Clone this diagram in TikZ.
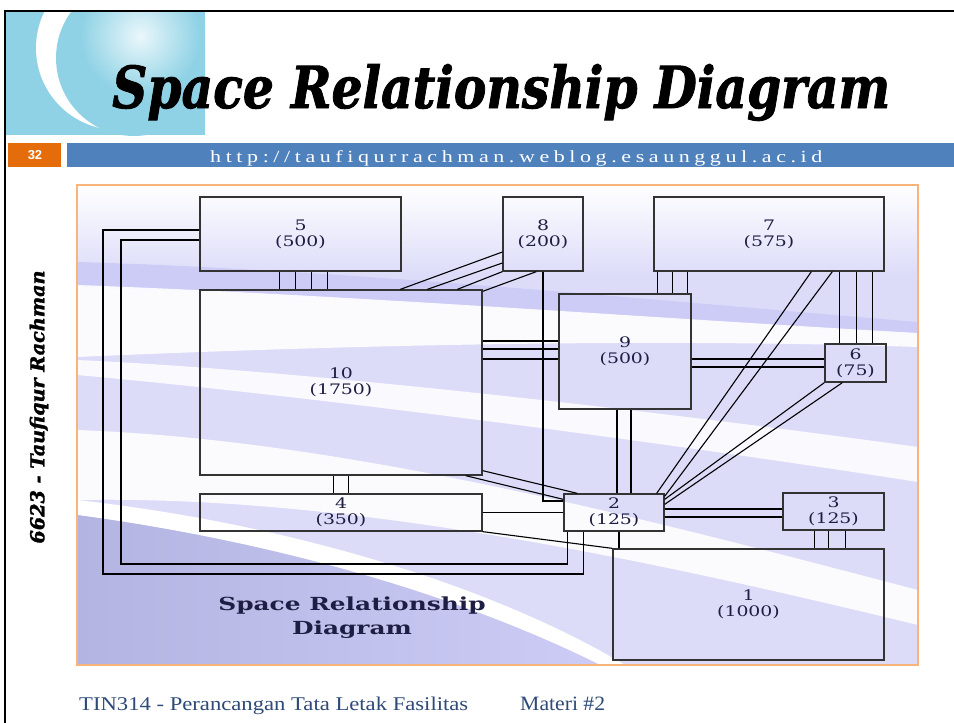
\documentclass[tikz,border=0pt]{standalone}
\usepackage{fontspec}
\usepackage{xcolor}
\usetikzlibrary{calc}
\newfontfamily\labelfont[FakeStretch=1.3]{DejaVu Serif}
\newfontfamily\capfont[FakeStretch=1.38]{DejaVu Serif}
\newfontfamily\titlefont{DejaVu Serif}
\newfontface\headfont[FakeBold=1.6]{DejaVu Serif Bold Italic}
\newfontfamily\urlfont[FakeStretch=0.8]{Liberation Serif}
\newfontfamily\footfont[FakeStretch=0.85]{Liberation Serif}
\newfontfamily\numfont{Liberation Sans}
\definecolor{barblue}{HTML}{4F81BD}
\definecolor{numorange}{HTML}{E46C0A}
\definecolor{frameorange}{HTML}{F9B47C}
\definecolor{lav}{HTML}{DCDCF9}
\definecolor{lavband}{HTML}{CCCCF6}
\definecolor{lavdark}{HTML}{B4B4E2}
\definecolor{logoblue}{HTML}{8FD2E5}
\definecolor{logolight}{HTML}{EAF7FB}
\definecolor{labelink}{HTML}{1E1E44}
\definecolor{footblue}{HTML}{2E4A78}
\begin{document}
\begin{tikzpicture}[
  x=1pt,y=-1pt,
  room/.style={draw=black!80,line width=1.3pt,inner sep=0pt,align=center,
    text=labelink,font=\labelfont\fontsize{14.5}{16}\selectfont},
  link/.style={line width=1.1pt,draw=black}
]
  \useasboundingbox (0,0) rectangle (954,723);
  \fill[white] (0,0) rectangle (954,723);

  % Slide frame and logo.
  \begin{scope}
    \clip (5,12) rectangle (205,135);
    \fill[logoblue] (5,12) rectangle (205,135);
    \fill[white] (118,48) circle[radius=82];
    \fill[logoblue] (134,58) circle[radius=78];
    \shade[inner color=logolight,outer color=logoblue] (140,36) circle[radius=60];
  \end{scope}
  \draw[line width=2.5pt] (5,723) -- (5,11) -- (954,11);

  % Title and bar.
  \node[anchor=base west,inner sep=0pt] (title) at (112,108)
    {\resizebox{778pt}{44pt}{\headfont Space Relationship Diagram}};
  \fill[numorange] (8,143) rectangle (61,167);
  \fill[barblue] (67,143) rectangle (954,167);
  \node[text=white,font=\numfont\bfseries\fontsize{13}{13}\selectfont] (page) at (35,155) {32};
  \node[anchor=base west,inner sep=0pt,text=white] (url) at (210,162)
    {\resizebox{612pt}{12pt}{\urlfont h\,t\,t\,p\,:\,/\,/\,t\,a\,u\,f\,i\,q\,u\,r\,r\,a\,c\,h\,m\,a\,n\,.\,w\,e\,b\,l\,o\,g\,.\,e\,s\,a\,u\,n\,g\,g\,u\,l\,.\,a\,c\,.\,i\,d}};
  \node[rotate=90,inner sep=0pt] (author) at (39,407)
    {\resizebox{273pt}{!}{\headfont 6623 - Taufiqur Rachman}};

  % Background of the diagram.
  \begin{scope}
    \clip (77,185) rectangle (918,665);
    \fill[lav] (77,185) rectangle (918,665);
    \shade[top color=white,bottom color=lav] (77,185) rectangle (918,275);
    \fill[lavband] (77,262) .. controls (350,270) and (650,300) .. (918,322)
      -- (918,335) .. controls (650,318) and (350,296) .. (77,287) -- cycle;
    \fill[white,opacity=0.9] (77,285) .. controls (350,295) and (650,318) .. (918,333)
      -- (918,347) .. controls (650,338) and (350,345) .. (77,357) -- cycle;
    \fill[white,opacity=0.85] (77,360) .. controls (300,370) and (650,410) .. (918,447)
      -- (918,482) .. controls (650,440) and (300,395) .. (77,375) -- cycle;
    \fill[white,opacity=0.9] (77,430) .. controls (350,440) and (650,520) .. (918,590)
      -- (918,625) .. controls (650,560) and (350,495) .. (77,500) -- cycle;
    \fill[white] (77,500) .. controls (300,525) and (500,590) .. (625,665)
      -- (600,665) .. controls (480,605) and (300,545) .. (77,515) -- cycle;
    \shade[left color=lavdark,right color=lavband] (77,515) .. controls (300,545) and (480,605) .. (600,665)
      -- (77,665) -- cycle;
  \end{scope}
  \draw[frameorange,line width=1.5pt] (77,185) rectangle (918,665);

  % Rooms.
  \node[room,minimum width=201pt,minimum height=74pt] (r5) at (300.5,234) {5\\(500)};
  \node[room,minimum width=282pt,minimum height=185pt] (r10) at (341,382.5) {10\\(1750)};
  \node[room,minimum width=282pt,minimum height=37pt] (r4) at (341,512.5) {4\\(350)};
  \node[room,minimum width=80pt,minimum height=74pt] (r8) at (543,234) {8\\(200)};
  \node[room,minimum width=230pt,minimum height=74pt] (r7) at (769,234) {7\\(575)};
  \node[room,minimum width=132pt,minimum height=115pt] (r9) at (625,351.5) {9\\(500)};
  \node[room,minimum width=61pt,minimum height=38pt] (r6) at (855.5,363) {6\\(75)};
  \node[room,minimum width=100pt,minimum height=37pt] (r2) at (614,512.5) {2\\(125)};
  \node[room,minimum width=101pt,minimum height=37pt] (r3) at (833.5,511.5) {3\\(125)};
  \node[room,minimum width=271pt,minimum height=111pt] (r1) at (748.5,604.5) {1\\(1000)};

  % Relationships of the upper rooms.
  \foreach \dx in {80,96,112,128}
    \draw[link] ([xshift=\dx pt]r5.south west) -- ([xshift=\dx pt]r10.north west);
  \foreach \dx in {134,149}
    \draw[link] ([xshift=\dx pt]r10.south west) -- ([xshift=\dx pt]r4.north west);
  \draw[link] ([yshift=-18pt]r8.west) -- ([xshift=201pt]r10.north west);
  \draw[link] ([yshift=-29pt]r8.west) -- ([xshift=228pt]r10.north west);
  \draw[link] (r8.south west) -- ([xshift=258pt]r10.north west);
  \draw[link] ([xshift=34pt]r8.south west) -- ([yshift=-2pt]r10.north east);
  \foreach \dy in {10.5,2.5,-7.5}
    \draw[link] ([yshift=\dy pt]r9.west -| r10.east) -- ([yshift=\dy pt]r9.west);
  \foreach \dx in {4,19,34}
    \draw[link] ([xshift=\dx pt]r7.south west) -- ([xshift=\dx pt]r7.south west |- r9.north);
  \foreach \dx in {186,203,219}
    \draw[link] ([xshift=\dx pt]r7.south west) -- ([xshift=\dx pt]r7.south west |- r6.north);
  \foreach \dy in {-7.5,-15.5}
    \draw[link] ([yshift=\dy pt]r9.east) -- ([yshift=\dy pt]r9.east -| r6.west);

  % Everything that meets room 2.
  \foreach \dx in {-8,6}
    \draw[link] ([xshift=\dx pt]r9.south) -- ([xshift=\dx pt]r9.south |- r2.north);
  \draw[link] (r8.south) |- ([yshift=11.5pt]r2.west);
  \draw[link] ([yshift=5pt]r10.south east) -- ([xshift=14pt]r2.north west);
  \draw[link] ([xshift=-17pt]r10.south east) -- ([yshift=-6pt]r2.north west);
  \draw[link] (r4.east) -- (r4.east -| r2.west);
  \draw[link] ([xshift=158pt]r7.south west) -- ([xshift=-8pt]r2.north east);
  \draw[link] ([xshift=179pt]r7.south west) -- ([yshift=-3pt]r2.north east);
  \draw[link] (r6.south west) -- ([yshift=-6pt]r2.north east);
  \draw[link] ([xshift=18pt]r6.south west) -- ([yshift=-11pt]r2.north east);
  \coordinate (loopout) at (103,574);
  \coordinate (loopin) at (121,564);
  \draw[link] ([yshift=4pt]r5.west) -| (loopout) -| ([xshift=20pt]r2.south west);
  \draw[link] ([yshift=-6pt]r5.west) -| (loopin) -| ([xshift=4pt]r2.south west);
  \foreach \dy in {3.5,-4.5}
    \draw[link] ([yshift=\dy pt]r2.east) -- ([yshift=\dy pt]r2.east -| r3.west);

  % Room 1 below.
  \draw[link] ([xshift=5pt]r2.south) -- ([xshift=5pt]r2.south |- r1.north);
  \draw[link] (r4.south east) -- (r1.north west);
  \foreach \dx in {32,46,63}
    \draw[link] ([xshift=\dx pt]r3.south west) -- ([xshift=\dx pt]r3.south west |- r1.north);

  % Caption and footer.
  \node[text=labelink,align=center,font=\capfont\bfseries\fontsize{18}{24}\selectfont]
    (caption) at (352,618) {Space Relationship\\Diagram};
  \node[anchor=base west,inner sep=0pt,text=footblue] (course) at (79,710)
    {\resizebox{389pt}{13.5pt}{\footfont TIN314 - Perancangan Tata Letak Fasilitas}};
  \node[anchor=base west,inner sep=0pt,text=footblue] (materi) at (520,710)
    {\resizebox{85pt}{13.5pt}{\footfont Materi \#2}};
\end{tikzpicture}
\end{document}
